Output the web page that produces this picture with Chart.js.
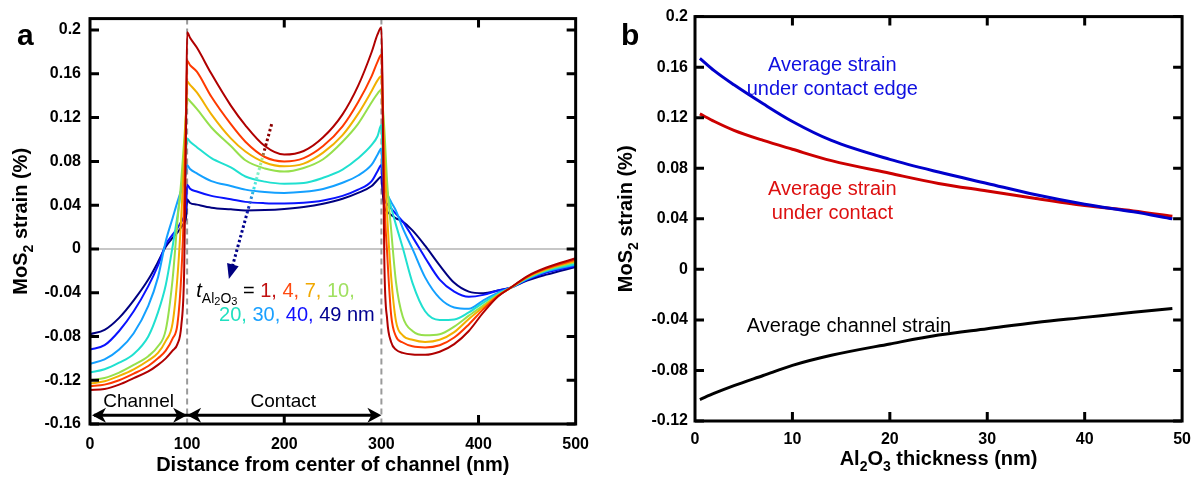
<!DOCTYPE html>
<html>
<head>
<meta charset="utf-8">
<script src="https://cdn.jsdelivr.net/npm/chart.js@4.4.0/dist/chart.umd.min.js"></script>
<style>
  body { margin: 0; background: #fff; }
  #wrap { position: relative; width: 1200px; height: 479px; }
  .panel { position: absolute; top: 0; width: 600px; height: 479px; }
</style>
</head>
<body>
<div id="wrap">
  <div class="panel" style="left:0"><canvas id="chartA" width="600" height="479"></canvas></div>
  <div class="panel" style="left:600px"><canvas id="chartB" width="600" height="479"></canvas></div>
</div>
<script>
const FONT = "'Liberation Sans', Arial, Helvetica, sans-serif";

// ---- panel a: strain profile along the device, one curve per Al2O3 thickness ----
const distNm = [0, 15, 30, 45, 60, 70, 78, 85, 90, 94, 97, 99, 100, 103, 110, 125, 145, 160, 180, 200,
  220, 240, 260, 276, 290, 296, 300, 301, 303, 306, 310, 315, 322, 332, 345, 360, 375, 390, 405, 420,
  433, 450, 470, 500];

const strainT1 = [-0.129, -0.128, -0.124, -0.118, -0.112, -0.106, -0.100, -0.093, -0.087, -0.070, -0.018, 0.120, 0.198,
  0.193, 0.184, 0.160, 0.131, 0.113, 0.094, 0.0862, 0.0895, 0.102, 0.123, 0.149, 0.180, 0.196, 0.2025,
  0.160, -0.010, -0.065, -0.085, -0.092, -0.095, -0.0965, -0.0968, -0.094, -0.087, -0.075, -0.058, -0.0435,
  -0.0355, -0.025, -0.017, -0.0085];
const strainT4 = [-0.1255, -0.124, -0.120, -0.114, -0.107, -0.100, -0.093, -0.082, -0.069, -0.024, 0.046, 0.130, 0.172,
  0.168, 0.162, 0.139, 0.114, 0.098, 0.084, 0.080, 0.083, 0.094, 0.112, 0.134, 0.158, 0.171, 0.1775,
  0.150, 0.050, -0.005, -0.060, -0.080, -0.0855, -0.089, -0.090, -0.088, -0.081, -0.069, -0.055, -0.043,
  -0.0355, -0.0255, -0.0178, -0.0098];
const strainT7 = [-0.123, -0.121, -0.116, -0.110, -0.102, -0.095, -0.084, -0.068, -0.026, 0.030, 0.085, 0.130, 0.153,
  0.150, 0.143, 0.123, 0.101, 0.089, 0.079, 0.0755, 0.078, 0.088, 0.104, 0.1234, 0.1444, 0.154, 0.158,
  0.140, 0.090, 0.030, -0.025, -0.066, -0.079, -0.083, -0.085, -0.083, -0.076, -0.064, -0.053, -0.0425,
  -0.0355, -0.026, -0.0185, -0.011];
const strainT10 = [-0.120, -0.118, -0.113, -0.106, -0.098, -0.089, -0.074, -0.028, 0.025, 0.063, 0.100, 0.125, 0.1375,
  0.135, 0.128, 0.111, 0.094, 0.081, 0.0735, 0.0707, 0.074, 0.082, 0.098, 0.1143, 0.134, 0.142, 0.1455,
  0.135, 0.110, 0.060, 0.018, -0.030, -0.062, -0.075, -0.079, -0.078, -0.071, -0.061, -0.0515, -0.042,
  -0.0355, -0.0265, -0.019, -0.012];
const strainT20 = [-0.113, -0.110, -0.104, -0.096, -0.080, -0.058, -0.033, 0.002, 0.030, 0.055, 0.075, 0.092, 0.101,
  0.098, 0.093, 0.083, 0.0745, 0.0662, 0.0615, 0.0596, 0.0602, 0.0650, 0.0725, 0.0828, 0.0950, 0.103, 0.1134,
  0.095, 0.068, 0.052, 0.038, 0.022, 0.001, -0.031, -0.057, -0.065, -0.0645, -0.058, -0.049, -0.041,
  -0.0355, -0.027, -0.0198, -0.0135];
const strainT30 = [-0.105, -0.101, -0.092, -0.077, -0.052, -0.026, 0.007, 0.028, 0.043, 0.054, 0.062, 0.070, 0.0767,
  0.073, 0.069, 0.062, 0.0575, 0.0542, 0.052, 0.0512, 0.0522, 0.0548, 0.0605, 0.0671, 0.077, 0.086, 0.0918,
  0.075, 0.058, 0.050, 0.043, 0.035, 0.019, 0.0, -0.026, -0.045, -0.0535, -0.0547, -0.047, -0.040,
  -0.0355, -0.0275, -0.0205, -0.0145];
const strainT40 = [-0.092, -0.088, -0.075, -0.057, -0.034, -0.015, 0.004, 0.013, 0.019, 0.025, 0.030, 0.040, 0.0587,
  0.055, 0.0525, 0.0485, 0.0455, 0.043, 0.0418, 0.0415, 0.0422, 0.0443, 0.0485, 0.0542, 0.062, 0.071, 0.0767,
  0.062, 0.046, 0.041, 0.037, 0.032, 0.025, 0.011, -0.008, -0.028, -0.039, -0.0437, -0.042, -0.038,
  -0.0355, -0.028, -0.0215, -0.0155];
const strainT49 = [-0.078, -0.074, -0.063, -0.047, -0.028, -0.012, 0.002, 0.010, 0.015, 0.020, 0.024, 0.030, 0.0451,
  0.042, 0.0405, 0.0377, 0.0362, 0.0352, 0.0355, 0.0365, 0.0383, 0.0413, 0.0458, 0.0512, 0.0575, 0.063, 0.0662,
  0.055, 0.038, 0.034, 0.031, 0.028, 0.025, 0.017, 0.003, -0.015, -0.031, -0.039, -0.0405, -0.038,
  -0.0355, -0.029, -0.0235, -0.0165];

const thicknessLabels = ['1', '4', '7', '10', '20', '30', '40', '49'];
const curveColors = ['#b00000', '#ff3a00', '#f2b000', '#96e04c', '#20e0d0', '#14a0ff', '#0a14ff', '#000080'];
const labelColors = ['#c01010', '#ff4a10', '#f0a800', '#a0e060', '#20e0c0', '#1aa0ff', '#1010ff', '#000090'];
const distTicks = [0, 100, 200, 300, 400, 500];
const strainTicksA = [-0.16, -0.12, -0.08, -0.04, 0, 0.04, 0.08, 0.12, 0.16, 0.2];

// ---- panel b: average strain vs Al2O3 thickness ----
const thicknessNm = [0.5, 2, 4, 7, 10, 14, 20, 25, 30, 35, 40, 45, 49];
const edgeStrain = [0.167, 0.157, 0.146, 0.131, 0.117, 0.102, 0.087, 0.077, 0.068, 0.059, 0.0515, 0.0455, 0.040];
const contactStrain = [0.123, 0.117, 0.110, 0.102, 0.095, 0.086, 0.076, 0.068, 0.062, 0.056, 0.0505, 0.0462, 0.042];
const channelStrain = [-0.103, -0.098, -0.092, -0.084, -0.076, -0.068, -0.059, -0.052, -0.047, -0.042, -0.038, -0.034, -0.031];
const thickTicks = [0, 10, 20, 30, 40, 50];
const strainTicksB = [-0.12, -0.08, -0.04, 0, 0.04, 0.08, 0.12, 0.16, 0.2];

const fmt = v => { const r = Math.round(v * 100) / 100; return r === 0 ? '0' : String(r); };
const pts = (xs, ys) => xs.map((x, i) => ({ x: x, y: ys[i] }));

function drawRich(ctx, parts, x, y, align) {
  let w = 0;
  parts.forEach(p => { ctx.font = p.font; w += ctx.measureText(p.t).width; });
  let cx = align === 'center' ? x - w / 2 : x;
  parts.forEach(p => {
    ctx.font = p.font;
    ctx.fillStyle = p.color || '#000';
    ctx.fillText(p.t, cx, y + (p.dy || 0));
    cx += ctx.measureText(p.t).width;
  });
}

function drawFrame(chart, xt, yt) {
  const { ctx, chartArea: a } = chart;
  const sx = chart.scales.x, sy = chart.scales.y;
  ctx.save();
  ctx.strokeStyle = '#000';
  ctx.lineWidth = 3;
  ctx.strokeRect(a.left, a.top, a.right - a.left, a.bottom - a.top);
  ctx.beginPath();
  xt.forEach(v => {
    const p = sx.getPixelForValue(v);
    ctx.moveTo(p, a.top); ctx.lineTo(p, a.top + 9);
    ctx.moveTo(p, a.bottom); ctx.lineTo(p, a.bottom - 9);
  });
  yt.forEach(v => {
    const p = sy.getPixelForValue(v);
    ctx.moveTo(a.left, p); ctx.lineTo(a.left + 9, p);
    ctx.moveTo(a.right, p); ctx.lineTo(a.right - 9, p);
  });
  ctx.stroke();
  ctx.restore();
}

function drawTitles(chart, xParts, xBase, yParts, yBase, letter, letterX) {
  const { ctx, chartArea: a } = chart;
  ctx.save();
  ctx.textBaseline = 'alphabetic';
  drawRich(ctx, xParts, (a.left + a.right) / 2, xBase, 'center');
  ctx.translate(yBase, (a.top + a.bottom) / 2);
  ctx.rotate(-Math.PI / 2);
  drawRich(ctx, yParts, 0, 0, 'center');
  ctx.restore();
  ctx.save();
  ctx.font = 'bold 30px ' + FONT;
  ctx.fillStyle = '#000';
  ctx.fillText(letter, letterX, 45);
  ctx.restore();
}

const B20 = 'bold 20px ' + FONT, B14 = 'bold 14px ' + FONT;
const yTitleParts = [{ t: 'MoS', font: B20 }, { t: '2', font: B14, dy: 6 }, { t: ' strain (%)', font: B20 }];

function arrowHead(ctx, x, y, dir) {
  ctx.beginPath();
  ctx.moveTo(x, y);
  ctx.lineTo(x - dir * 14, y - 7.5);
  ctx.lineTo(x - dir * 10, y);
  ctx.lineTo(x - dir * 14, y + 7.5);
  ctx.closePath();
  ctx.fill();
}

const decorA = {
  id: 'decorA',
  beforeDatasetsDraw(chart) {
    const { ctx, chartArea: a } = chart;
    const sx = chart.scales.x, sy = chart.scales.y;
    ctx.save();
    // zero line
    ctx.strokeStyle = '#b4b4b4';
    ctx.lineWidth = 1.5;
    ctx.beginPath();
    ctx.moveTo(a.left, sy.getPixelForValue(0));
    ctx.lineTo(a.right, sy.getPixelForValue(0));
    ctx.stroke();
    // channel / contact boundaries
    ctx.strokeStyle = '#9a9a9a';
    ctx.lineWidth = 2;
    ctx.setLineDash([6, 4]);
    [100, 300].forEach(v => {
      const p = sx.getPixelForValue(v);
      ctx.beginPath(); ctx.moveTo(p, a.top); ctx.lineTo(p, a.bottom); ctx.stroke();
    });
    ctx.restore();
  },
  afterDatasetsDraw(chart) {
    const { ctx } = chart;
    const sx = chart.scales.x, sy = chart.scales.y;
    drawFrame(chart, [200, 400], strainTicksA);

    // channel / contact arrows
    ctx.save();
    const ay = sy.getPixelForValue(-0.152);
    const x0 = sx.getPixelForValue(0), x1 = sx.getPixelForValue(100), x3 = sx.getPixelForValue(300);
    ctx.strokeStyle = '#000'; ctx.fillStyle = '#000'; ctx.lineWidth = 3;
    ctx.beginPath(); ctx.moveTo(x0 + 4, ay); ctx.lineTo(x3 - 4, ay); ctx.stroke();
    arrowHead(ctx, x0 + 2, ay, -1);
    arrowHead(ctx, x1, ay, 1);
    arrowHead(ctx, x1, ay, -1);
    arrowHead(ctx, x3, ay, 1);
    ctx.font = '19px ' + FONT;
    ctx.textAlign = 'center';
    ctx.fillText('Channel', sx.getPixelForValue(50), 407);
    ctx.fillText('Contact', sx.getPixelForValue(199), 407);
    ctx.restore();

    // thickness legend
    ctx.save();
    const R20 = '20px ' + FONT, R14 = '14px ' + FONT, R11 = '11px ' + FONT;
    const line1 = [
      { t: 't', font: 'italic 20px ' + FONT },
      { t: 'Al', font: R14, dy: 6 }, { t: '2', font: R11, dy: 8 },
      { t: 'O', font: R14, dy: 6 }, { t: '3', font: R11, dy: 8 },
      { t: ' = ', font: R20 }
    ];
    const line2 = [];
    thicknessLabels.forEach((lab, i) => {
      const last = i === thicknessLabels.length - 1;
      const item = [{ t: lab, font: R20, color: labelColors[i] },
        { t: last ? ' nm' : (i === 3 ? ',' : ', '), font: R20, color: labelColors[i] }];
      (i < 4 ? line1 : line2).push(...item);
    });
    drawRich(ctx, line1, sx.getPixelForValue(109.4), sy.getPixelForValue(-0.0436), 'left');
    drawRich(ctx, line2, sx.getPixelForValue(132.9), sy.getPixelForValue(-0.0662), 'left');
    ctx.restore();

    // dotted trend arrow (thin to thick Al2O3)
    ctx.save();
    const s = [sx.getPixelForValue(187), sy.getPixelForValue(0.114)];
    const e = [sx.getPixelForValue(143), sy.getPixelForValue(-0.0275)];
    const dx = e[0] - s[0], dy = e[1] - s[1], len = Math.hypot(dx, dy);
    const ux = dx / len, uy = dy / len;
    const g = ctx.createLinearGradient(s[0], s[1], e[0], e[1]);
    g.addColorStop(0, '#8b0000'); g.addColorStop(0.17, '#8b0000');
    g.addColorStop(0.22, '#b0f080'); g.addColorStop(0.32, '#80f0c8');
    g.addColorStop(0.42, '#30e0e8'); g.addColorStop(0.52, '#2040d0');
    g.addColorStop(0.6, '#000090'); g.addColorStop(1, '#000080');
    ctx.strokeStyle = g; ctx.lineWidth = 3; ctx.setLineDash([2.5, 2.5]);
    ctx.beginPath(); ctx.moveTo(s[0], s[1]); ctx.lineTo(e[0] - ux * 12, e[1] - uy * 12); ctx.stroke();
    ctx.setLineDash([]);
    ctx.fillStyle = '#000080';
    ctx.beginPath();
    ctx.moveTo(e[0], e[1]);
    ctx.lineTo(e[0] - ux * 15 - uy * 6, e[1] - uy * 15 + ux * 6);
    ctx.lineTo(e[0] - ux * 15 + uy * 6, e[1] - uy * 15 - ux * 6);
    ctx.closePath(); ctx.fill();
    ctx.restore();

    drawTitles(chart, [{ t: 'Distance from center of channel (nm)', font: B20 }], 471, yTitleParts, 27, 'a', 17);
  }
};

const decorB = {
  id: 'decorB',
  afterDatasetsDraw(chart) {
    const { ctx } = chart;
    const sx = chart.scales.x, sy = chart.scales.y;
    drawFrame(chart, [10, 20, 30, 40], strainTicksB);
    ctx.save();
    ctx.font = '20px ' + FONT;
    ctx.textAlign = 'center';
    ctx.fillStyle = '#1010e0';
    ctx.fillText('Average strain', sx.getPixelForValue(14.1), sy.getPixelForValue(0.1569));
    ctx.fillText('under contact edge', sx.getPixelForValue(14.1), sy.getPixelForValue(0.1383));
    ctx.fillStyle = '#dd1010';
    ctx.fillText('Average strain', sx.getPixelForValue(14.1), sy.getPixelForValue(0.0588));
    ctx.fillText('under contact', sx.getPixelForValue(14.1), sy.getPixelForValue(0.0402));
    ctx.fillStyle = '#000';
    ctx.fillText('Average channel strain', sx.getPixelForValue(15.8), sy.getPixelForValue(-0.0494));
    ctx.restore();
    const xParts = [{ t: 'Al', font: B20 }, { t: '2', font: B14, dy: 6 }, { t: 'O', font: B20 },
      { t: '3', font: B14, dy: 6 }, { t: ' thickness (nm)', font: B20 }];
    drawTitles(chart, xParts, 465, yTitleParts, 32, 'b', 21);
  }
};

function axisOpts(min, max, ticks, width, height, padX, padY) {
  const tickFont = { family: FONT, size: 16, weight: 'bold' };
  return {
    x: {
      type: 'linear', min: min[0], max: max[0],
      afterFit: s => { s.height = height; },
      afterBuildTicks: s => { s.ticks = ticks[0].map(v => ({ value: v })); },
      grid: { display: false, drawTicks: false }, border: { display: false },
      ticks: { color: '#000', font: tickFont, padding: padX, maxRotation: 0, autoSkip: false }
    },
    y: {
      type: 'linear', min: min[1], max: max[1],
      afterFit: s => { s.width = width; },
      afterBuildTicks: s => { s.ticks = ticks[1].map(v => ({ value: v })); },
      grid: { display: false, drawTicks: false }, border: { display: false },
      ticks: { color: '#000', font: tickFont, padding: padY, callback: fmt }
    }
  };
}

const seriesA = [strainT1, strainT4, strainT7, strainT10, strainT20, strainT30, strainT40, strainT49];

new Chart(document.getElementById('chartA'), {
  type: 'line',
  data: {
    datasets: seriesA.map((ys, i) => ({
      label: 't = ' + thicknessLabels[i] + ' nm',
      data: pts(distNm, ys),
      borderColor: curveColors[i],
      borderWidth: 2,
      fill: false
    }))
  },
  options: {
    responsive: false, animation: false, devicePixelRatio: 1,
    layout: { padding: { top: 13, right: 20, left: 0, bottom: 0 } },
    plugins: { legend: { display: false }, tooltip: { enabled: false } },
    elements: { point: { radius: 0 }, line: { cubicInterpolationMode: 'monotone' } },
    scales: axisOpts([0, -0.16], [500, 0.2105], [distTicks, strainTicksA], 90, 55, 11, 9)
  },
  plugins: [decorA]
});

new Chart(document.getElementById('chartB'), {
  type: 'line',
  data: {
    datasets: [
      { label: 'Average strain under contact edge', data: pts(thicknessNm, edgeStrain), borderColor: '#0000cc', borderWidth: 3 },
      { label: 'Average strain under contact', data: pts(thicknessNm, contactStrain), borderColor: '#cc0000', borderWidth: 3 },
      { label: 'Average channel strain', data: pts(thicknessNm, channelStrain), borderColor: '#000000', borderWidth: 3 }
    ]
  },
  options: {
    responsive: false, animation: false, devicePixelRatio: 1,
    layout: { padding: { top: 13, right: 15, left: 0, bottom: 0 } },
    plugins: { legend: { display: false }, tooltip: { enabled: false } },
    elements: { point: { radius: 0 }, line: { cubicInterpolationMode: 'monotone', fill: false } },
    scales: axisOpts([0, -0.12], [50, 0.2], [thickTicks, strainTicksB], 95, 58, 9, 7)
  },
  plugins: [decorB]
});
</script>
</body>
</html>
